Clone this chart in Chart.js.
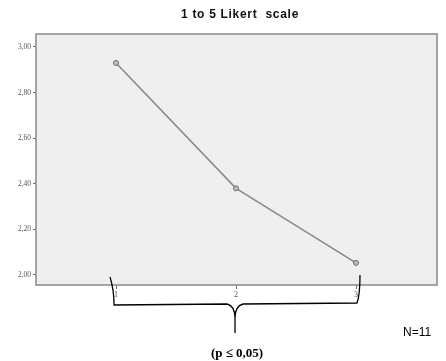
<!DOCTYPE html>
<html>
<head>
<meta charset="utf-8">
<script src="https://cdn.jsdelivr.net/npm/chart.js@4"></script>
<style>
  html, body { margin: 0; padding: 0; background: #fff; }
  #wrap { width: 446px; height: 361px; position: relative; }
</style>
</head>
<body>
<div id="wrap"><canvas id="likertChart"></canvas></div>
<script>
// data
const categories = [1, 2, 3];
const means = [2.93, 2.38, 2.053];
const yTicks = [2.0, 2.2, 2.4, 2.6, 2.8, 3.0];
const titleText = '1 to 5 Likert  scale';
const pText = '(p \u2264 0,05)';
const nText = 'N=11';

// grey plot box + title, brace and notes
const decorations = {
  id: 'decorations',
  beforeDraw(chart) {
    const { ctx, chartArea: a } = chart;
    ctx.save();
    ctx.fillStyle = '#efefef';
    ctx.fillRect(a.left, a.top, a.right - a.left, a.bottom - a.top);
    ctx.restore();
  },
  afterDraw(chart) {
    const { ctx, chartArea: a } = chart;
    ctx.save();
    // box border
    ctx.strokeStyle = '#8f8f8f';
    ctx.lineWidth = 1.6;
    ctx.strokeRect(a.left, a.top, a.right - a.left, a.bottom - a.top);

    // title
    ctx.fillStyle = '#111';
    ctx.font = 'bold 12px Arial, "Liberation Sans", sans-serif';
    ctx.letterSpacing = '0.7px';
    ctx.textAlign = 'center';
    ctx.textBaseline = 'middle';
    ctx.fillText(titleText, 240, 15);
    ctx.letterSpacing = '0px';

    // brace under the three categories
    const x = chart.scales.x;
    const x1 = x.getPixelForValue(categories[0]) - 6;
    const x3 = x.getPixelForValue(categories[categories.length - 1]) + 4;
    const xm = x.getPixelForValue(categories[1]) - 1;
    ctx.strokeStyle = '#000';
    ctx.lineWidth = 1.3;
    ctx.beginPath();
    ctx.moveTo(x1, 277);
    ctx.quadraticCurveTo(x1 + 4, 290, x1 + 4, 305);
    ctx.lineTo(xm - 8, 304);
    ctx.quadraticCurveTo(xm, 306, xm, 318);
    ctx.lineTo(xm, 333);
    ctx.moveTo(xm, 318);
    ctx.quadraticCurveTo(xm, 306, xm + 8, 304);
    ctx.lineTo(x3 - 3, 303);
    ctx.quadraticCurveTo(x3, 295, x3, 275);
    ctx.stroke();

    // notes
    ctx.fillStyle = '#000';
    ctx.font = 'bold 13px "Liberation Serif", "Times New Roman", serif';
    ctx.fillText(pText, xm + 2, 354);
    ctx.font = '12px Arial, "Liberation Sans", sans-serif';
    ctx.textAlign = 'left';
    ctx.fillText(nText, 403, 333);
    ctx.restore();
  }
};

new Chart(document.getElementById('likertChart'), {
  type: 'line',
  data: {
    datasets: [{
      data: categories.map((c, i) => ({ x: c, y: means[i] })),
      borderColor: '#8a8a8a',
      borderWidth: 1.6,
      pointRadius: 2.5,
      pointBackgroundColor: '#bdbdbd',
      pointBorderColor: '#6e6e6e',
      pointBorderWidth: 1,
      tension: 0
    }]
  },
  options: {
    responsive: true,
    maintainAspectRatio: false,
    animation: false,
    layout: { padding: { top: 34, right: 9, left: 0, bottom: 0 } },
    plugins: {
      legend: { display: false },
      tooltip: { enabled: false }
    },
    scales: {
      x: {
        type: 'linear',
        min: 0.333,
        max: 3.675,
        afterBuildTicks: s => { s.ticks = categories.map(v => ({ value: v })); },
        afterFit: s => { s.height = 76; },
        grid: { drawOnChartArea: false, drawTicks: true, tickLength: 4, color: '#666' },
        border: { display: false },
        ticks: {
          callback: v => String(v),
          color: '#555',
          padding: 1,
          maxRotation: 0,
          font: { size: 8, family: '"Liberation Serif", "Times New Roman", serif' }
        }
      },
      y: {
        min: 1.956,
        max: 3.057,
        afterBuildTicks: s => { s.ticks = yTicks.map(v => ({ value: v })); },
        afterFit: s => { s.width = 36; },
        grid: { drawOnChartArea: false, drawTicks: true, tickLength: 3, color: '#666' },
        border: { display: false },
        ticks: {
          callback: v => v.toFixed(2).replace('.', ','),
          color: '#555',
          padding: 2,
          font: { size: 7.5, family: '"Liberation Serif", "Times New Roman", serif' }
        }
      }
    }
  },
  plugins: [decorations]
});
</script>
</body>
</html>
